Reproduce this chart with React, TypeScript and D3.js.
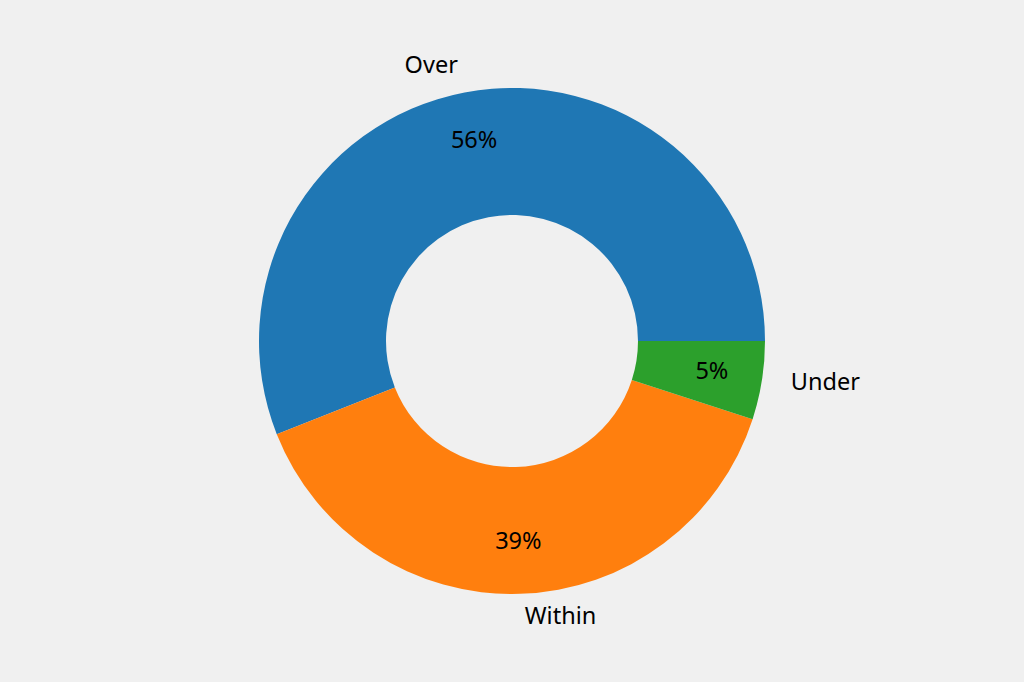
import React from "react";
import * as d3 from "d3";

const categories = ["Over", "Within", "Under"];
const shares = [56, 39, 5];
const colors = ["#1f77b4", "#ff7f0e", "#2ca02c"];

const width = 1024;
const height = 682;
const cx = 512;
const cy = 341;
const outerR = 253;
const innerR = 126;

export default function App() {
  // matplotlib style: start at 3 o'clock, go counter-clockwise
  const pie = d3
    .pie<number>()
    .sort(null)
    .startAngle(Math.PI / 2)
    .endAngle(Math.PI / 2 - 2 * Math.PI);
  const arcs = pie(shares);
  const arcGen = d3.arc<d3.PieArcDatum<number>>().innerRadius(innerR).outerRadius(outerR);
  const total = d3.sum(shares);

  const polar = (a: number, r: number) => [Math.sin(a) * r, -Math.cos(a) * r];

  return (
    <div style={{ position: "fixed", left: 0, top: 0, width, height, background: "#f0f0f0" }}>
      <svg width={width} height={height} style={{ display: "block", fontFamily: "'Noto Sans', sans-serif" }}>
        <rect width={width} height={height} fill="#f0f0f0" />
        <g transform={`translate(${cx},${cy})`}>
          {arcs.map((a, i) => (
            <path key={categories[i]} d={arcGen(a) || ""} fill={colors[i]} />
          ))}
          {arcs.map((a, i) => {
            const mid = (a.startAngle + a.endAngle) / 2;
            const [lx, ly] = polar(mid, outerR * 1.1);
            const [px, py] = polar(mid, outerR * 0.8);
            return (
              <g key={"t" + i}>
                <text
                  x={lx + (lx < 0 ? -2 : 4)}
                  y={ly - 4}
                  fontSize={23.5}
                  dominantBaseline="central"
                  textAnchor={lx < 0 ? "end" : "start"}
                  fill="#000"
                >
                  {categories[i]}
                </text>
                <text
                  x={px}
                  y={py - 3}
                  fontSize={23.5}
                  dominantBaseline="central"
                  textAnchor="middle"
                  fill="#000"
                >
                  {Math.round((shares[i] / total) * 100)}%
                </text>
              </g>
            );
          })}
        </g>
      </svg>
    </div>
  );
}
